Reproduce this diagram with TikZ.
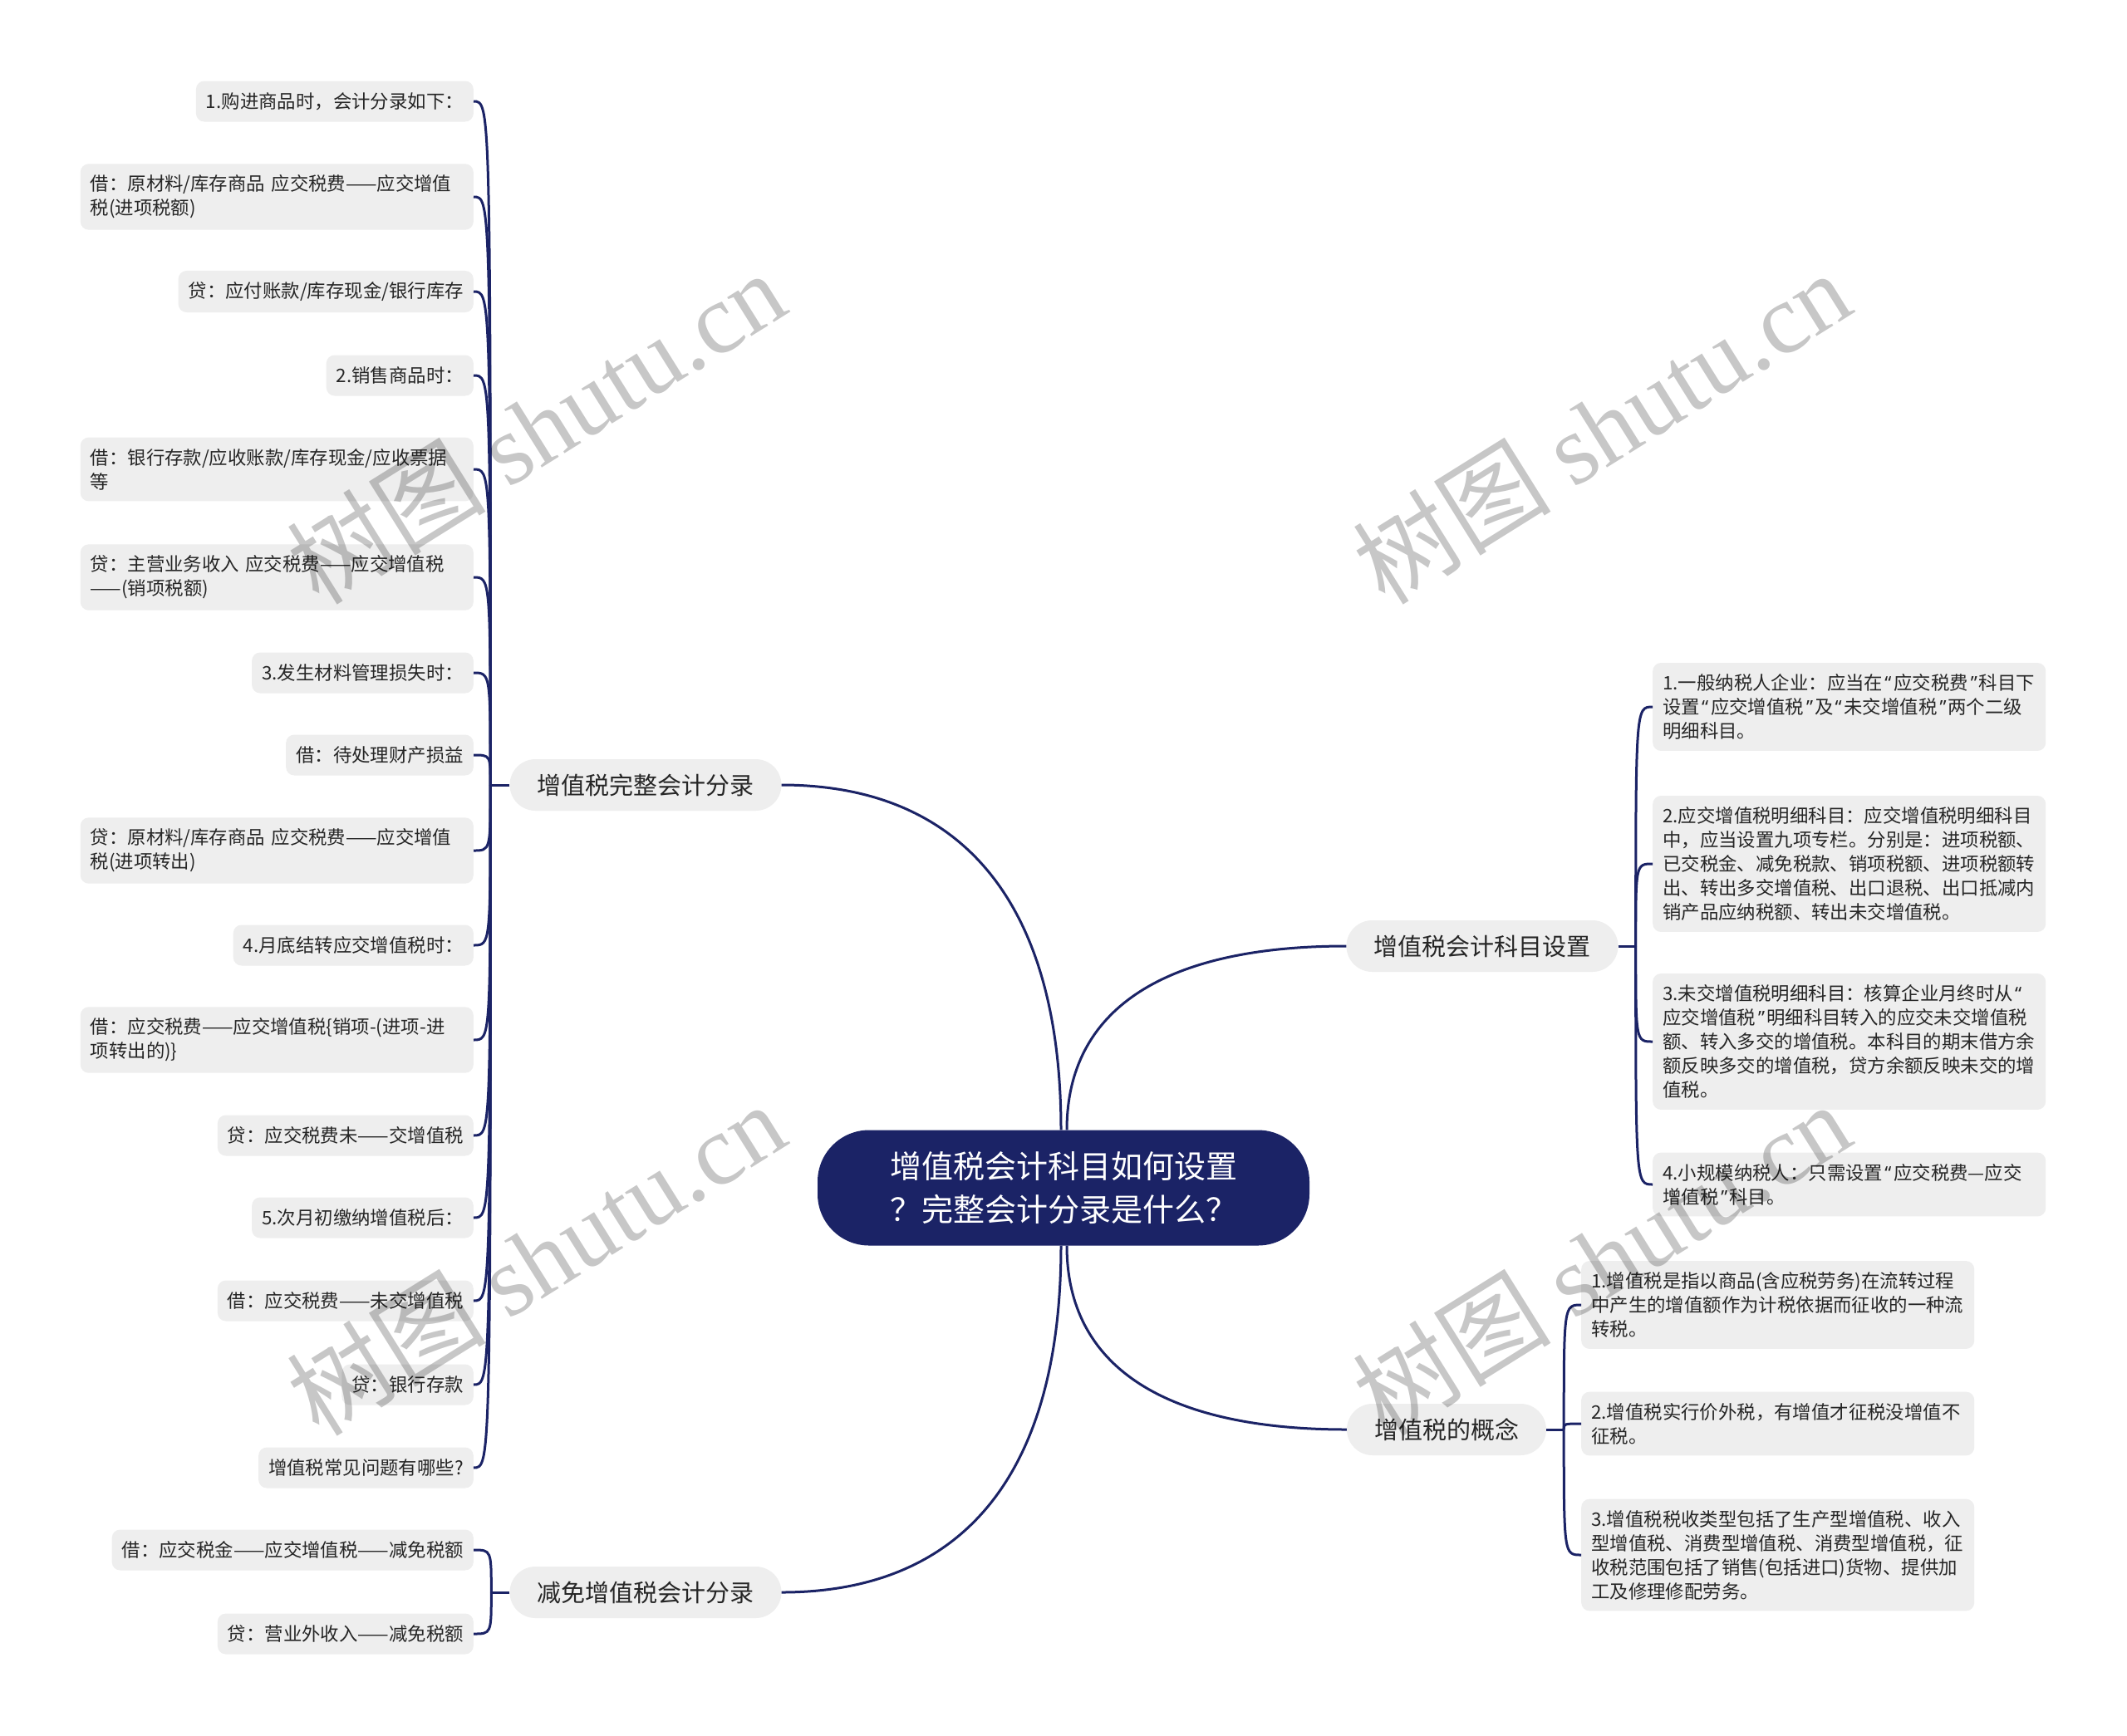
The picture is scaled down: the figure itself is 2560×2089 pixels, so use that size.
\documentclass[tikz,border=0pt]{standalone}
\usepackage{fontspec}
\setmainfont{Noto Sans CJK SC}
\newfontfamily\stampfont{Liberation Serif}
\newfontfamily\quotefont{Noto Sans}
\newcommand\openq{{\quotefont\kern2pt“\kern3pt}}
\newcommand\closeq{{\quotefont\kern3pt”\kern2pt}}
\usetikzlibrary{calc}
\definecolor{inkblue}{HTML}{1B2366}
\definecolor{paper}{HTML}{EEEEEE}
\definecolor{textgrey}{HTML}{262626}

\begin{document}
\begin{tikzpicture}[x=1pt, y=-1pt,
    every node/.style={text=textgrey},
    rootbox/.style={rectangle, rounded corners=62pt, fill=inkblue, text=white,
        minimum width=592pt, minimum height=139pt, align=left,
        font=\fontsize{38}{52}\selectfont},
    topicbox/.style={rectangle, rounded corners=31pt, fill=paper, inner xsep=33pt,
        minimum height=62pt, font=\fontsize{29}{36}\selectfont},
    leafbox/.style={rectangle, rounded corners=10pt, fill=paper, inner xsep=12pt,
        inner ysep=13.5pt, minimum height=49pt, align=left,
        font=\fontsize{22.4}{29}\selectfont},
    wideleaf/.style={leafbox, text width=449pt},
    link/.style={draw=inkblue, line width=3pt},
    stamp/.style={text=black, text opacity=0.22, rotate=32,
        font=\fontsize{120}{120}\selectfont},
]
\fill[white] (0,0) rectangle (2560,2089);
\useasboundingbox (0,0) rectangle (2560,2089);

% Central topic
\node[rootbox] (root) at (1280,1430) {增值税会计科目如何设置\\？完整会计分录是什么？};

% Main branches
\node[topicbox] (full) at (777,945) {增值税完整会计分录};
\node[topicbox] (relief) at (777,1917) {减免增值税会计分录};
\node[topicbox] (subject) at (1784,1139) {增值税会计科目设置};
\node[topicbox] (concept) at (1741,1721) {增值税的概念};

\draw[link] ([xshift=-3pt]root.north) .. controls +(0,-270) and +(220,0) .. (full.east);
\draw[link] ([xshift=4pt]root.north) .. controls +(0,-145) and +(-220,0) .. (subject.west);
\draw[link] ([xshift=-3pt]root.south) .. controls +(0,272) and +(221,0) .. (relief.east);
\draw[link] ([xshift=4pt]root.south) .. controls +(0,144) and +(-222,0) .. (concept.west);

% Full entries (left)
\node[leafbox, anchor=east] (entry1) at (570,122) {1.购进商品时，会计分录如下：};
\node[wideleaf, anchor=east] (entry2) at (570,237) {借：原材料/库存商品 应交税费——应交增值\\税(进项税额)};
\node[leafbox, anchor=east] (entry3) at (570,351) {贷：应付账款/库存现金/银行库存};
\node[leafbox, anchor=east] (entry4) at (570,452) {2.销售商品时：};
\node[wideleaf, anchor=east] (entry5) at (570,565) {借：银行存款/应收账款/库存现金/应收票据\\等};
\node[wideleaf, anchor=east] (entry6) at (570,695) {贷：主营业务收入 应交税费——应交增值税\\——(销项税额)};
\node[leafbox, anchor=east] (entry7) at (570,810) {3.发生材料管理损失时：};
\node[leafbox, anchor=east] (entry8) at (570,909) {借：待处理财产损益};
\node[wideleaf, anchor=east] (entry9) at (570,1024) {贷：原材料/库存商品 应交税费——应交增值\\税(进项转出)};
\node[leafbox, anchor=east] (entry10) at (570,1138) {4.月底结转应交增值税时：};
\node[wideleaf, anchor=east] (entry11) at (570,1252) {借：应交税费——应交增值税\{销项-(进项-进\\项转出的)\}};
\node[leafbox, anchor=east] (entry12) at (570,1367) {贷：应交税费未——交增值税};
\node[leafbox, anchor=east] (entry13) at (570,1466) {5.次月初缴纳增值税后：};
\node[leafbox, anchor=east] (entry14) at (570,1566) {借：应交税费——未交增值税};
\node[leafbox, anchor=east] (entry15) at (570,1667) {贷：银行存款};
\node[leafbox, anchor=east] (entry16) at (570,1767) {增值税常见问题有哪些?};

\coordinate (fullhub) at ($(full.west)+(-23,0)$);
\draw[link] (full.west) -- (fullhub);
\foreach \i in {1,...,16}
    \draw[link] (fullhub) .. controls (fullhub |- entry\i.east) .. (entry\i.east);

% Relief entries (left, bottom)
\node[leafbox, anchor=east] (cut1) at (570,1866) {借：应交税金——应交增值税——减免税额};
\node[leafbox, anchor=east] (cut2) at (570,1967) {贷：营业外收入——减免税额};

\coordinate (reliefhub) at ($(relief.west)+(-22,0)$);
\draw[link] (relief.west) -- (reliefhub);
\foreach \i in {1,2}
    \draw[link] (reliefhub) .. controls (reliefhub |- cut\i.east) .. (cut\i.east);

% Subject settings (right)
\node[wideleaf, anchor=west] (subj1) at (1989,851) {1.一般纳税人企业：应当在\openq 应交税费\closeq 科目下\\设置\openq 应交增值税\closeq 及\openq 未交增值税\closeq 两个二级\\明细科目。};
\node[wideleaf, anchor=west] (subj2) at (1989,1040) {2.应交增值税明细科目：应交增值税明细科目\\中，应当设置九项专栏。分别是：进项税额、\\已交税金、减免税款、销项税额、进项税额转\\出、转出多交增值税、出口退税、出口抵减内\\销产品应纳税额、转出未交增值税。};
\node[wideleaf, anchor=west] (subj3) at (1989,1254) {3.未交增值税明细科目：核算企业月终时从\openq\\应交增值税\closeq 明细科目转入的应交未交增值税\\额、转入多交的增值税。本科目的期末借方余\\额反映多交的增值税，贷方余额反映未交的增\\值税。};
\node[wideleaf, anchor=west] (subj4) at (1989,1426) {4.小规模纳税人：只需设置\openq 应交税费—应交\\增值税\closeq 科目。};

\coordinate (subjecthub) at ($(subject.east)+(21,0)$);
\draw[link] (subject.east) -- (subjecthub);
\foreach \i in {1,...,4}
    \draw[link] (subjecthub) .. controls (subjecthub |- subj\i.west) .. (subj\i.west);

% Concept (right, bottom)
\node[wideleaf, anchor=west] (idea1) at (1903,1571) {1.增值税是指以商品(含应税劳务)在流转过程\\中产生的增值额作为计税依据而征收的一种流\\转税。};
\node[wideleaf, anchor=west] (idea2) at (1903,1714) {2.增值税实行价外税，有增值才征税没增值不\\征税。};
\node[wideleaf, anchor=west] (idea3) at (1903,1872) {3.增值税税收类型包括了生产型增值税、收入\\型增值税、消费型增值税、消费型增值税，征\\收税范围包括了销售(包括进口)货物、提供加\\工及修理修配劳务。};

\coordinate (concepthub) at ($(concept.east)+(21,0)$);
\draw[link] (concept.east) -- (concepthub);
\foreach \i in {1,2,3}
    \draw[link] (concepthub) .. controls (concepthub |- idea\i.west) .. (idea\i.west);

% Watermarks
\foreach \x/\y [count=\k] in {645/514, 1927/514, 645/1515, 1927/1515}
    \node[stamp] (stamp\k) at (\x,\y) {树图 {\stampfont shutu.cn}};

\end{tikzpicture}
\end{document}
